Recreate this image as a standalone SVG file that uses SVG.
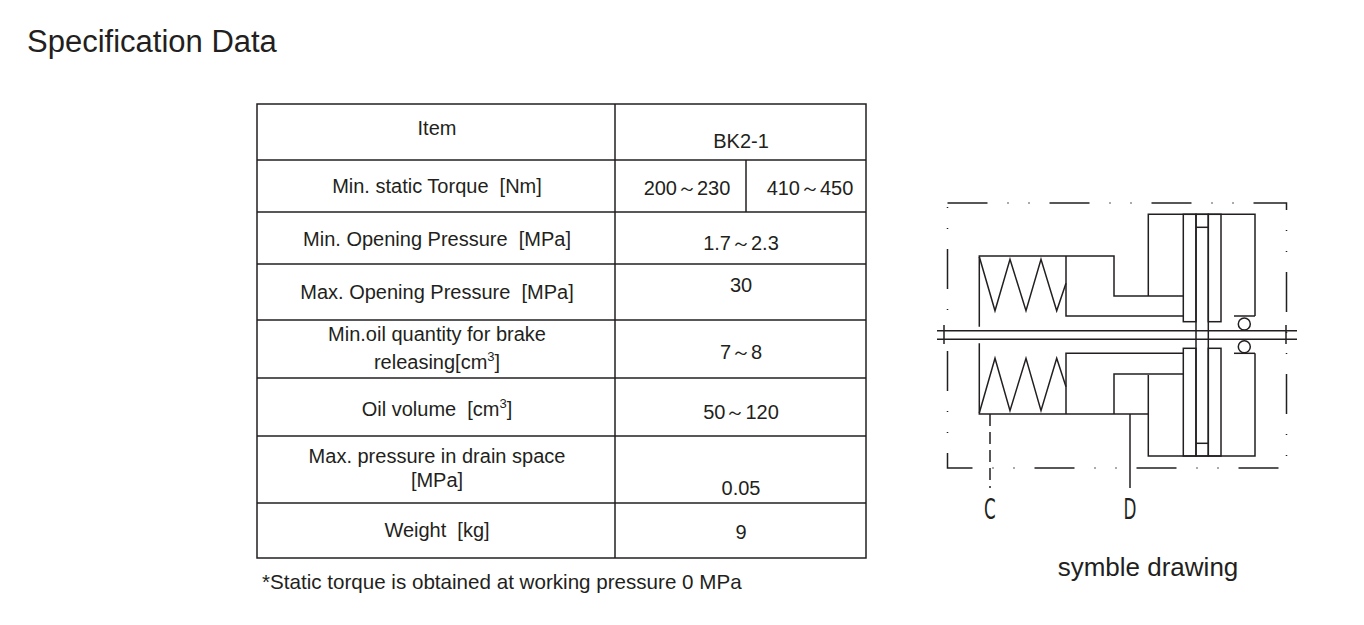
<svg xmlns="http://www.w3.org/2000/svg" width="1364" height="625" viewBox="0 0 1364 625">
<style>
text{font-family:"Liberation Sans",Arial,sans-serif;fill:#231f20;white-space:pre}
.t{font-size:20px;text-anchor:middle}
.n{font-size:20px;text-anchor:middle}
.g line,.g rect,.g polyline,.g circle{stroke:#231f20;stroke-width:1.5;fill:none}
.tb{stroke:#231f20;stroke-width:1.5;fill:none}
.cd{font-family:"DejaVu Sans",sans-serif;font-size:28px;text-anchor:middle}
</style>
<rect width="1364" height="625" fill="#fff"/>
<text x="27" y="52" font-size="31">Specification Data</text>
<g id="table">
<rect class="tb" x="257" y="104" width="609" height="454"/>
<g class="tb">
<line x1="615" y1="104" x2="615" y2="558"/>
<line x1="746" y1="160" x2="746" y2="212"/>
<line x1="257" y1="160" x2="866" y2="160"/>
<line x1="257" y1="212" x2="866" y2="212"/>
<line x1="257" y1="264" x2="866" y2="264"/>
<line x1="257" y1="320" x2="866" y2="320"/>
<line x1="257" y1="378" x2="866" y2="378"/>
<line x1="257" y1="436" x2="866" y2="436"/>
<line x1="257" y1="503" x2="866" y2="503"/>
</g>
<text class="t" x="437" y="135">Item</text>
<text class="t" x="741" y="148">BK2-1</text>
<text class="t" x="437" y="193" xml:space="preserve">Min. static Torque  [Nm]</text>
<text class="n" x="687" y="195">200～230</text>
<text class="n" x="810" y="195">410～450</text>
<text class="t" x="437" y="246" xml:space="preserve">Min. Opening Pressure  [MPa]</text>
<text class="t" x="741" y="250">1.7～2.3</text>
<text class="t" x="437" y="299" xml:space="preserve">Max. Opening Pressure  [MPa]</text>
<text class="t" x="741" y="292">30</text>
<text class="t" x="437" y="341">Min.oil quantity for brake</text>
<text class="t" x="437" y="369">releasing[cm<tspan font-size="13" dy="-8">3</tspan><tspan dy="8">]</tspan></text>
<text class="t" x="741" y="359">7～8</text>
<text class="t" x="437" y="416" xml:space="preserve">Oil volume  [cm<tspan font-size="13" dy="-8">3</tspan><tspan dy="8">]</tspan></text>
<text class="t" x="741" y="419">50～120</text>
<text class="t" x="437" y="463">Max. pressure in drain space</text>
<text class="t" x="437" y="487">[MPa]</text>
<text class="t" x="741" y="495">0.05</text>
<text class="t" x="437" y="537" xml:space="preserve">Weight  [kg]</text>
<text class="t" x="741" y="539">9</text>
</g>
<text x="262" y="589" font-size="20.6">*Static torque is obtained at working pressure 0 MPa</text>
<g id="symbol" class="g">
<rect x="947.5" y="203" width="339" height="265" stroke-dasharray="40 20 1 20 1 20"/>
<line x1="937" y1="330.7" x2="1297" y2="330.7"/>
<line x1="937" y1="339.3" x2="1297" y2="339.3"/>
<line x1="944" y1="325" x2="944" y2="344"/>
<line x1="1286" y1="325" x2="1286" y2="344"/>
<polyline points="979.3,326.7 979.3,256 1114,256 1114,296 1183.3,296"/>
<polyline points="1066,256 1066,316 1183.3,316"/>
<polyline points="979.3,256.7 995,310.7 1010,259.3 1026,310.7 1041,259.3 1056.7,310.7 1066,283.3"/>
<polyline points="1148.3,296 1148.3,214.3 1255,214.3 1255,316"/>
<polyline points="1148.3,375 1148.3,456 1255,456 1255,353.3"/>
<rect x="1183.3" y="214.3" width="12.7" height="107.4"/>
<rect x="1208.3" y="214.3" width="12.7" height="107.4"/>
<rect x="1183.3" y="348.3" width="12.7" height="107.7"/>
<rect x="1208.3" y="348.3" width="12.7" height="107.7"/>
<rect x="1196" y="214.3" width="12.3" height="241.7"/>
<line x1="1196" y1="227.3" x2="1208.3" y2="227.3"/>
<line x1="1196" y1="443.3" x2="1208.3" y2="443.3"/>
<polyline points="979.3,343.3 979.3,414 1148.3,414"/>
<polyline points="1114,414 1114,374 1183.3,374"/>
<polyline points="1066,414 1066,353.3 1183.3,353.3"/>
<polyline points="979.3,413 995,358.3 1010,410.7 1026,358.3 1041,410.7 1056.7,358.3 1066,386.7"/>
<line x1="1234" y1="316" x2="1255" y2="316"/>
<line x1="1234" y1="353.3" x2="1255" y2="353.3"/>
<circle cx="1244.3" cy="324" r="6"/>
<circle cx="1244.3" cy="346.7" r="6"/>
<line x1="990" y1="414" x2="990" y2="488" stroke-dasharray="12 6"/>
<line x1="1130" y1="414" x2="1130" y2="488"/>
</g>
<text class="cd" x="990" y="519" transform="translate(990 0) scale(0.6 1) translate(-990 0)">C</text>
<text class="cd" x="1130" y="519" transform="translate(1130 0) scale(0.6 1) translate(-1130 0)">D</text>
<text x="1148" y="576" font-size="26" text-anchor="middle">symble drawing</text>
</svg>
